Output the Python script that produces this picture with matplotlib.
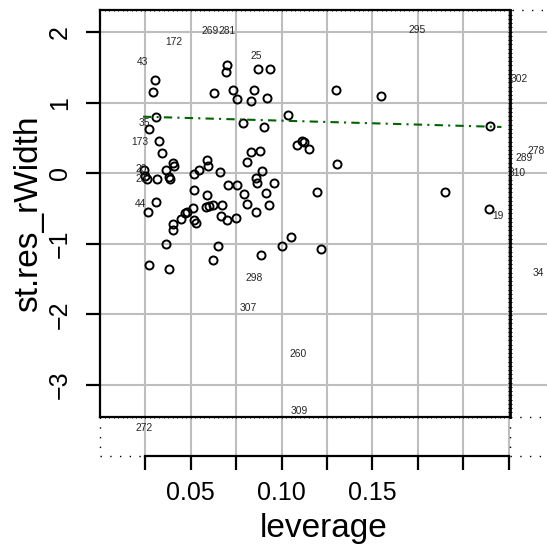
import numpy as np
import matplotlib
matplotlib.use("Agg")
import matplotlib.pyplot as plt

plt.rcParams['font.family'] = ['Liberation Sans', 'DejaVu Sans']

# ---- data ----
leverage = [0.0303, 0.0293, 0.0307, 0.0269, 0.0327, 0.0343, 0.0404, 0.0406, 0.0366, 0.0242,
            0.0249, 0.0257, 0.0316, 0.0380, 0.0385, 0.0306, 0.0267, 0.0515, 0.0545, 0.0589,
            0.0597, 0.0662, 0.0515, 0.0589, 0.0627, 0.0698, 0.0694, 0.0731, 0.0756, 0.0786,
            0.0830, 0.0848, 0.0869, 0.0934, 0.0921, 0.0905, 0.0812, 0.0832, 0.0882, 0.0893,
            0.0860, 0.0862, 0.0703, 0.0757, 0.0793, 0.0915, 0.0958, 0.1037, 0.1083, 0.1111,
            0.1122, 0.1153, 0.1197, 0.1302, 0.1545, 0.2148, 0.1305, 0.1898, 0.2142, 0.1217,
            0.0404, 0.0402, 0.0446, 0.0468, 0.0477, 0.0514, 0.0520, 0.0527, 0.0583, 0.0600,
            0.0620, 0.0665, 0.0673, 0.0698, 0.0747, 0.0810, 0.0931, 0.0859, 0.0361, 0.0268,
            0.0382, 0.0651, 0.0623, 0.0884, 0.1004, 0.1054]
st_res = [1.324, 1.150, 0.803, 0.628, 0.455, 0.288, 0.146, 0.099, 0.047, 0.040,
          -0.038, -0.078, -0.085, -0.057, -0.078, -0.410, -0.556, -0.010, 0.040, 0.182,
          0.104, 0.018, -0.237, -0.311, 1.146, 1.536, 1.441, 1.184, 1.054, 0.709,
          1.026, 1.184, 1.477, 1.477, 1.064, 0.654, 0.167, 0.299, 0.323, 0.030,
          -0.071, -0.142, -0.170, -0.173, -0.287, -0.282, -0.133, 0.824, 0.399, 0.451,
          0.447, 0.348, -0.267, 1.182, 1.096, 0.675, 0.132, -0.270, -0.511, -1.078,
          -0.722, -0.804, -0.644, -0.567, -0.549, -0.492, -0.658, -0.705, -0.482, -0.467,
          -0.450, -0.599, -0.450, -0.662, -0.641, -0.435, -0.454, -0.545, -1.007, -1.301,
          -1.355, -1.027, -1.233, -1.159, -1.027, -0.904]

# smoothed trend (dash-dot green)
trend_x = [0.0237, 0.2210]
trend_y = [0.803, 0.657]

# observation id labels
lab_text = ['43', '172', '269', '281', '25', '295', '302', '35', '173', '20', '23',
            '44', '298', '307', '260', '309', '272', '278', '289', '310', '19', '34']
lab_x = [0.0233, 0.0407, 0.0606, 0.0701, 0.0859, 0.1744, 0.2307, 0.0242, 0.0220, 0.0229, 0.0226,
         0.0224, 0.0850, 0.0817, 0.1092, 0.1097, 0.0244, 0.2401, 0.2336, 0.2295, 0.2190, 0.2414]
lab_y = [1.574, 1.867, 2.023, 2.023, 1.668, 2.037, 1.333, 0.718, 0.440, 0.060, -0.075,
         -0.440, -1.489, -1.915, -2.563, -3.372, -3.617, 0.321, 0.213, 0.009, -0.606, -1.418]

x_ticks = [0.025, 0.05, 0.075, 0.10, 0.125, 0.15, 0.175, 0.20, 0.225]
x_ticklabels = ['', '0.05', '', '0.10', '', '0.15', '', '', '']
y_ticks = [-3, -2, -1, 0, 1, 2]
y_ticklabels = ['\u22123', '\u22122', '\u22121', '0', '1', '2']

# box extents (data units)
box_x0, box_x1 = 0.0, 0.2258
box_y0, box_y1 = -3.45, 2.316
outer_y0 = -4.01
y_top = 2.39
x_right = 0.2461

# ---- figure ----
W, H = 547, 551
fig = plt.figure(figsize=(W / 100, H / 100), dpi=100)
ax = fig.add_axes([100 / W, (H - 456) / H, 447 / W, 451.2 / H])
ax.set_xlim(0, x_right)
ax.set_ylim(outer_y0, y_top)

grid_c = '#bebebe'
for xv in x_ticks:
    ax.plot([xv, xv], [outer_y0, box_y1], color=grid_c, lw=1.5, zorder=1, clip_on=False)
for yv in y_ticks:
    ax.plot([box_x0, x_right], [yv, yv], color=grid_c, lw=1.5, zorder=1, clip_on=False)

# box
ax.plot([box_x0, box_x1], [box_y1, box_y1], color='black', lw=1.6, zorder=3, clip_on=False)
ax.plot([box_x0, box_x1], [box_y0, box_y0], color='black', lw=1.6, zorder=3, clip_on=False)
ax.plot([box_x1, box_x1], [box_y0, box_y1], color='black', lw=2.0, zorder=3, clip_on=False)
xs = np.arange(box_x0, box_x1, 0.0025)
ax.plot(xs, np.full_like(xs, box_y1), ls='none', marker='|', ms=1.6, mew=0.7, color='black', zorder=3, clip_on=False)
ax.plot(xs, np.full_like(xs, box_y0), ls='none', marker='|', ms=1.6, mew=0.7, color='black', zorder=3, clip_on=False)
ys = np.arange(box_y0, box_y1, 0.06)
ax.plot(np.full_like(ys, box_x1), ys, ls='none', marker='_', ms=2.6, mew=0.7, color='black', zorder=3, clip_on=False)

# dotted lines
dot = dict(color='black', lw=1.0, ls=(0, (1, 6)), zorder=3, clip_on=False)
ax.plot([box_x0, box_x0], [box_y0, outer_y0], **dot)
ax.plot([box_x0, 0.025], [outer_y0, outer_y0], **dot)
ax.plot([box_x1, x_right], [outer_y0, outer_y0], **dot)
ax.plot([box_x1, x_right], [box_y0, box_y0], **dot)
ax.plot([box_x1, box_x1], [box_y0, outer_y0], **dot)
ax.plot([box_x1 + 0.001, x_right], [box_y1, box_y1], **dot)

# points
ax.plot(leverage, st_res, ls='none', marker='o', ms=5.8, mfc='none', mec='black', mew=1.4, zorder=4)
ax.plot(trend_x, trend_y, color='#006400', lw=1.5, dashes=(4, 2.5, 1, 2.5), zorder=4)

for t, xv, yv in zip(lab_text, lab_x, lab_y):
    ax.text(xv, yv, t, fontsize=7.4, color='#262626', ha='center', va='center', zorder=5, clip_on=False)

# axes
for s in ['top', 'right']:
    ax.spines[s].set_visible(False)
ax.spines['left'].set_bounds(box_y0, box_y1)
ax.spines['left'].set_linewidth(1.6)
ax.spines['bottom'].set_bounds(0.025, 0.225)
ax.spines['bottom'].set_linewidth(1.6)
ax.set_xticks(x_ticks)
ax.set_xticklabels(x_ticklabels)
ax.set_yticks(y_ticks)
ax.set_yticklabels(y_ticklabels, rotation=90, va='center')
ax.tick_params(axis='both', direction='out', length=10, width=1.6, labelsize=18, colors='black')
ax.tick_params(axis='y', pad=10)
ax.tick_params(axis='x', pad=8)
ax.set_xlabel('leverage', fontsize=24, labelpad=6)
ax.set_ylabel('st.res_rWidth', fontsize=24)
box_mid = ((box_y0 + box_y1) / 2 - outer_y0) / (y_top - outer_y0)
ax.yaxis.set_label_coords(-56 / 447, box_mid)
ax.patch.set_alpha(0)

fig.savefig('out.png', dpi=100)
